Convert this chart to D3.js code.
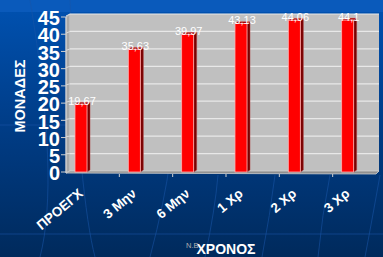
<!DOCTYPE html>
<html><head><meta charset="utf-8">
<script src="https://cdn.jsdelivr.net/npm/d3@7"></script>
<style>html,body{margin:0;padding:0;background:#00306a;}svg{display:block;}</style>
</head><body>
<svg id="c" width="383" height="257"></svg>
<script>
const categories = ["ΠΡΟΕΓΧ", "3 Μην", "6 Μην", "1 Χρ", "2 Χρ", "3 Χρ"];
const values = [19.67, 35.63, 39.97, 43.13, 44.06, 44.1];
const yTicks = [0, 5, 10, 15, 20, 25, 30, 35, 40, 45];
const yTitle = "ΜΟΝΑΔΕΣ";
const xTitle = "ΧΡΟΝΟΣ";
const note = "N.B";

const W = 383, H = 257;
const svg = d3.select("#c");
const defs = svg.append("defs");
const bg = defs.append("linearGradient").attr("id","bg").attr("x1",0).attr("y1",0).attr("x2",0).attr("y2",1);
bg.append("stop").attr("offset","0%").attr("stop-color","#0052b2");
bg.append("stop").attr("offset","45%").attr("stop-color","#003e8a");
bg.append("stop").attr("offset","100%").attr("stop-color","#002a5c");
svg.append("rect").attr("width",W).attr("height",H).attr("fill","url(#bg)");
svg.append("rect").attr("width",W).attr("height",12).attr("fill","#0a5abb");

// faint decorative background lines
const deco = svg.append("g").attr("stroke","#1a56a8").attr("stroke-opacity",0.55).attr("fill","none").attr("stroke-width",1);
["M40,257 Q60,180 30,0","M95,257 Q80,200 70,0","M150,257 Q165,200 170,160","M205,257 Q215,210 218,175","M262,257 Q270,215 275,175","M318,257 Q322,215 330,175","M365,257 Q372,220 380,175"]
  .forEach(d => deco.append("path").attr("d", d));
deco.append("line").attr("x1",0).attr("x2",W).attr("y1",234).attr("y2",234);
deco.append("line").attr("x1",0).attr("x2",66).attr("y1",125).attr("y2",125);

const backL = 70, backR = 379, frontL = 66;
const yBack = d3.scaleLinear().domain([0,45]).range([171,14]);
const yBar = d3.scaleLinear().domain([0,45]).range([172,17]);
const yFront = d3.scaleLinear().domain([0,45]).range([173,18]);
const x = d3.scaleBand().domain(categories).range([65,385]).padding(0);

// side wall
svg.append("path").attr("d",`M${frontL},${yFront(45)-1} L${backL},${yBack(45)} L${backL},${yBack(0)} L${frontL},${yFront(0)} Z`)
  .attr("fill","#a8a8a8").attr("stroke","#d8d8d8").attr("stroke-width",0.8);
// back wall
svg.append("rect").attr("x",backL).attr("y",yBack(45)).attr("width",backR-backL).attr("height",yBack(0)-yBack(45)).attr("fill","#c0c0c0");
// gridlines
svg.append("g").selectAll("line").data(yTicks.filter(t=>t>0)).join("line")
  .attr("x1",backL).attr("x2",backR).attr("y1",d=>yBack(d)).attr("y2",d=>yBack(d))
  .attr("stroke","#e8e8e8").attr("stroke-width",1.2);
svg.append("g").selectAll("line").data(yTicks.filter(t=>t>0)).join("line")
  .attr("x1",frontL).attr("x2",backL).attr("y1",d=>yFront(d)-2).attr("y2",d=>yBack(d))
  .attr("stroke","#dcdcdc").attr("stroke-width",1);
// floor
svg.append("path").attr("d",`M${frontL},${yFront(0)} L${backL},${yBack(0)} L${backR},${yBack(0)} L${backR-3},${yFront(0)+1} Z`)
  .attr("fill","#909090").attr("stroke","#d0d0d0").attr("stroke-width",0.8);

// y axis ticks
svg.append("g").selectAll("line").data(yTicks).join("line")
  .attr("x1",61).attr("x2",frontL).attr("y1",d=>yFront(d)-1).attr("y2",d=>yFront(d)-1)
  .attr("stroke","#d0d0d0").attr("stroke-width",1);
svg.append("line").attr("x1",frontL).attr("x2",frontL).attr("y1",yFront(45)-1).attr("y2",yFront(0)).attr("stroke","#d0d0d0");
svg.append("g").selectAll("text").data(yTicks).join("text")
  .attr("x",60).attr("y",d=>yFront(d)).attr("dy","0.36em").attr("text-anchor","end")
  .attr("font-family","Liberation Sans, Arial, sans-serif").attr("font-weight","bold").attr("font-size",20)
  .attr("fill","#ffffff").text(d=>d);

// x axis ticks
svg.append("g").selectAll("line").data(categories.slice(1)).join("line")
  .attr("x1",d=>x(d)+1).attr("x2",d=>x(d)+1).attr("y1",yFront(0)+1).attr("y2",yFront(0)+4)
  .attr("stroke","#d0d0d0");

// bars
const bw = 12, side = 3, depth = 2;
const bars = svg.append("g").selectAll("g").data(values).join("g");
bars.append("path").attr("d",(d,i)=>{const x0=x(categories[i])+10+bw, t=yBar(d);
   return `M${x0},${t} L${x0+side},${t-depth} L${x0+side},${yBar(0)-depth} L${x0},${yBar(0)} Z`;})
  .attr("fill","#7a0000").attr("stroke","#b04040").attr("stroke-width",0.5);
bars.append("path").attr("d",(d,i)=>{const x0=x(categories[i])+10, t=yBar(d);
   return `M${x0},${t} L${x0+side},${t-depth} L${x0+bw+side},${t-depth} L${x0+bw},${t} Z`;})
  .attr("fill","#a00000").attr("stroke","#e08080").attr("stroke-width",0.5);
bars.append("rect").attr("x",(d,i)=>x(categories[i])+10).attr("y",d=>yBar(d))
  .attr("width",bw).attr("height",d=>yBar(0)-yBar(d))
  .attr("fill","#ff0000").attr("stroke","#ffb0b0").attr("stroke-width",0.8);

// value labels
const fmt = d3.format(".4~r");
svg.append("g").selectAll("text").data(values).join("text")
  .attr("x",(d,i)=>x(categories[i])+10+bw/2+1).attr("y",d=>yBar(d)+1)
  .attr("text-anchor","middle").attr("font-family","Liberation Sans, Arial, sans-serif")
  .attr("font-size",11).attr("fill","#ffffff").text(d=>fmt(d).replace(".",","));

// x labels
svg.append("g").selectAll("text").data(categories).join("text")
  .attr("transform",d=>`translate(${x(d)+10+bw/2+3},${195}) rotate(-40)`)
  .attr("text-anchor","end").attr("font-family","Liberation Sans, Arial, sans-serif")
  .attr("font-weight","bold").attr("font-size",13.5).attr("fill","#ffffff").text(d=>d);

// titles
svg.append("text").attr("transform","translate(25,96) rotate(-90)").attr("text-anchor","middle")
  .attr("font-family","Liberation Sans, Arial, sans-serif").attr("font-weight","bold").attr("font-size",14.5)
  .attr("fill","#ffffff").text(yTitle);
svg.append("text").attr("x",226).attr("y",254).attr("text-anchor","middle")
  .attr("font-family","Liberation Sans, Arial, sans-serif").attr("font-weight","bold").attr("font-size",14)
  .attr("fill","#ffffff").text(xTitle);
svg.append("text").attr("x",186).attr("y",248)
  .attr("font-family","Liberation Sans, Arial, sans-serif").attr("font-size",7.5)
  .attr("fill","#b0b0b0").text(note);
</script>
</body></html>
